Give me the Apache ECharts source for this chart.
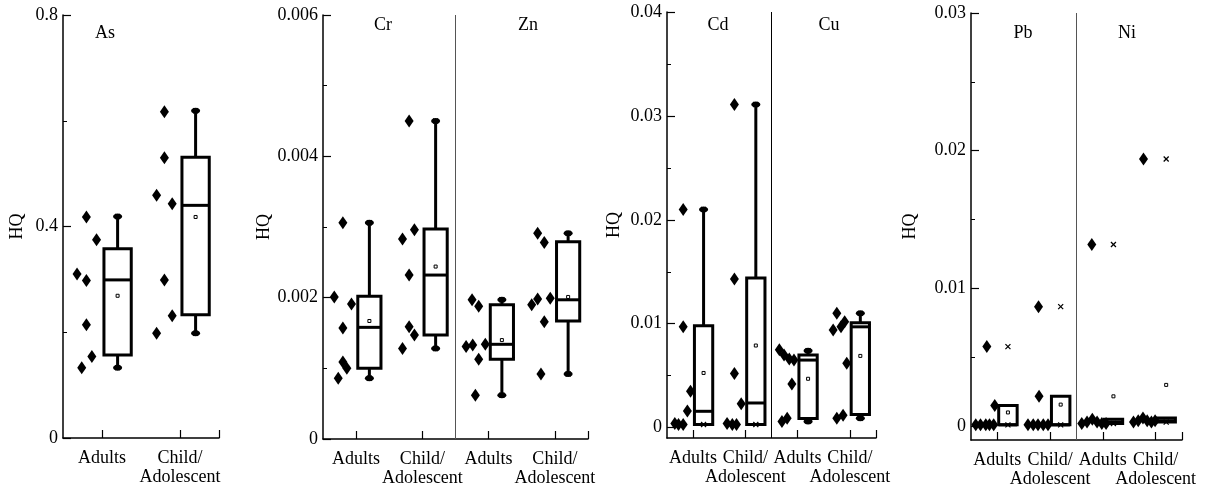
<!DOCTYPE html>
<html>
<head>
<meta charset="utf-8">
<script src="https://cdn.jsdelivr.net/npm/echarts@6/dist/echarts.min.js"></script>
<style>
html,body{margin:0;padding:0;background:#fff;}
#chart{width:1224px;height:489px;}
</style>
</head>
<body>
<div id="chart"></div>
<script>
// ---------------- DATA ----------------
const categories = ['Adults', 'Child/\nAdolescent'];
const yAxisName = 'HQ';
const panelMetals = [['As'], ['Cr', 'Zn'], ['Cd', 'Cu'], ['Pb', 'Ni']];
const yMin = [0, 0, -0.001, -0.001];
const yMax = [0.8, 0.006, 0.04, 0.03];
const yMajorTicks = [[0, 0.4, 0.8], [0, 0.002, 0.004, 0.006], [0, 0.01, 0.02, 0.03, 0.04], [0, 0.01, 0.02, 0.03]];
const yMinorTicks = [[0.2, 0.6], [0.001, 0.003, 0.005], [0.005, 0.015, 0.025, 0.035], [0.005, 0.015, 0.025]];

// points per group: [Adults], [Child/Adolescent]; jitter = horizontal spread of each point (category units)
const asPoints = [[0.418, 0.375, 0.310, 0.298, 0.214, 0.154, 0.133], [0.617, 0.530, 0.459, 0.443, 0.299, 0.231, 0.198]];
const asJitter = [[-0.2, -0.07, -0.32, -0.2, -0.2, -0.13, -0.26], [-0.2, -0.2, -0.3, -0.1, -0.2, -0.1, -0.3]];
// box: [lower whisker, Q1, median, Q3, upper whisker]
const asBox = [[0.133, 0.157, 0.299, 0.358, 0.419], [0.198, 0.233, 0.440, 0.531, 0.619]];
const asMean = [0.269, 0.418];
const asRange = [[0.133, 0.419], [0.198, 0.619]];

const crPoints = [[0.00306, 0.00201, 0.00191, 0.00157, 0.00109, 0.00100, 0.00086], [0.00450, 0.00283, 0.00296, 0.00232, 0.00159, 0.00147, 0.00128]];
const crJitter = [[-0.2, -0.33, -0.07, -0.2, -0.2, -0.14, -0.27], [-0.2, -0.3, -0.12, -0.2, -0.2, -0.12, -0.3]];
const crBox = [[0.00086, 0.00100, 0.00158, 0.00202, 0.00306], [0.00128, 0.00147, 0.00232, 0.00297, 0.00450]];
const crMean = [0.00167, 0.00244];
const crRange = [[0.00086, 0.00306], [0.00128, 0.00450]];

const znPoints = [[0.00197, 0.00188, 0.00131, 0.00133, 0.00134, 0.00113, 0.00062], [0.00291, 0.00278, 0.00190, 0.00198, 0.00199, 0.00166, 0.00092]];
const znJitter = [[-0.25, -0.15, -0.34, -0.24, -0.05, -0.15, -0.2], [-0.26, -0.16, -0.35, -0.26, -0.07, -0.16, -0.21]];
const znBox = [[0.00062, 0.00113, 0.00134, 0.00190, 0.00197], [0.00092, 0.00167, 0.00197, 0.00279, 0.00291]];
const znMean = [0.00140, 0.00201];
const znRange = [[0.00062, 0.00197], [0.00092, 0.00291]];

const cdPoints = [[0.0210, 0.0097, 0.0035, 0.0016, 0.0004, 0.0003, 0.0003], [0.0311, 0.0143, 0.0052, 0.0023, 0.0004, 0.0003, 0.0003]];
const cdJitter = [[-0.19, -0.19, -0.05, -0.11, -0.35, -0.28, -0.19], [-0.21, -0.21, -0.21, -0.08, -0.35, -0.25, -0.17]];
const cdBox = [[0.0003, 0.0003, 0.00157, 0.0098, 0.0210], [0.0003, 0.0003, 0.00237, 0.0144, 0.0311]];
const cdMean = [0.00526, 0.0079];
const cdRange = [[0.0003, 0.0210], [0.0003, 0.0311]];

const cuPoints = [[0.0075, 0.0070, 0.0066, 0.0065, 0.0042, 0.0009, 0.0006], [0.0110, 0.0102, 0.0097, 0.0094, 0.0062, 0.0012, 0.0009]];
const cuJitter = [[-0.35, -0.26, -0.16, -0.07, -0.11, -0.2, -0.3], [-0.25, -0.1, -0.17, -0.32, -0.06, -0.13, -0.25]];
const cuBox = [[0.0006, 0.00088, 0.0065, 0.0070, 0.0074], [0.0009, 0.00125, 0.0097, 0.0101, 0.0110]];
const cuMean = [0.0047, 0.0069];
const cuRange = [[0.0006, 0.0074], [0.0009, 0.0110]];

const pbPoints = [[0.00578, 0.0015, 0.0001, 0.0001, 0.0001, 0.0001, 0.0001], [0.00868, 0.00217, 0.0001, 0.0001, 0.0001, 0.0001, 0.0001]];
const pbJitter = [[-0.2, -0.05, -0.41, -0.32, -0.22, -0.15, -0.07], [-0.22, -0.21, -0.42, -0.32, -0.23, -0.13, -0.04]];
const pbBox = [[0.0001, 0.0001, 0.0001, 0.0015, 0.0015], [0.0001, 0.0001, 0.0001, 0.00217, 0.00217]];
const pbMean = [0.0010, 0.00157];
const pbRange = [[0.0001, 0.00578], [0.0001, 0.00868]];

const niPoints = [[0.01319, 0.0002, 0.0003, 0.0005, 0.0003, 0.0002, 0.0002], [0.0194, 0.0003, 0.0004, 0.0006, 0.0004, 0.0003, 0.0004]];
const niJitter = [[-0.21, -0.4, -0.3, -0.2, -0.11, -0.02, 0.06], [-0.23, -0.42, -0.33, -0.24, -0.16, -0.08, -0.01]];
const niBox = [[0.0002, 0.0002, 0.0003, 0.0005, 0.0005], [0.0003, 0.0003, 0.0004, 0.0006, 0.0006]];
const niMean = [0.00217, 0.0030];
const niRange = [[0.0002, 0.01319], [0.0003, 0.0194]];

const metalData = {
  As: {points: asPoints, jitter: asJitter, box: asBox, mean: asMean, range: asRange},
  Cr: {points: crPoints, jitter: crJitter, box: crBox, mean: crMean, range: crRange},
  Zn: {points: znPoints, jitter: znJitter, box: znBox, mean: znMean, range: znRange},
  Cd: {points: cdPoints, jitter: cdJitter, box: cdBox, mean: cdMean, range: cdRange},
  Cu: {points: cuPoints, jitter: cuJitter, box: cuBox, mean: cuMean, range: cuRange},
  Pb: {points: pbPoints, jitter: pbJitter, box: pbBox, mean: pbMean, range: pbRange},
  Ni: {points: niPoints, jitter: niJitter, box: niBox, mean: niMean, range: niRange}
};

// ---------------- LAYOUT / STYLE ----------------
const FONT = "'Liberation Serif', 'Times New Roman', serif";
const BOX_OFFSET = 0.2;
const BOX_WIDTH = 0.35;
const LINE_H = 19;
const layout = [
  {left: 63, top: 15, width: 156, height: 423, nameGap: 37, titles: [[105, 33]], divider: null},
  {left: 323, top: 15, width: 265, height: 424, nameGap: 49, titles: [[383, 25], [528, 25]], divider: '#555'},
  {left: 667, top: 12, width: 209, height: 426, nameGap: 44, titles: [[718, 25], [829, 25]], divider: '#000'},
  {left: 971, top: 13, width: 211, height: 427, nameGap: 52, titles: [[1023, 33], [1127, 33]], divider: '#555'}
];
const catLine = (v, line) => (categories[Math.round(v) % categories.length].split('\n')[line] || '');

function renderBox(params, api) {
  const x = api.value(0);
  const c = i => api.coord([x, api.value(i)]);
  const cx = c(1)[0];
  const halfW = api.size([BOX_WIDTH, 0])[0] / 2;
  const yLow = c(1)[1], yQ1 = c(2)[1], yMed = c(3)[1], yQ3 = c(4)[1], yHigh = c(5)[1];
  const yMean = c(6)[1], yMinV = c(7)[1], yMaxV = c(8)[1];
  const k = '#000';
  const thick = {stroke: k, lineWidth: 3};
  const ch = [];
  if (yHigh < yQ3 - 0.5) {
    ch.push({type: 'line', shape: {x1: cx, y1: yQ3, x2: cx, y2: yHigh}, style: thick});
  }
  if (yLow > yQ1 + 0.5) {
    ch.push({type: 'line', shape: {x1: cx, y1: yQ1, x2: cx, y2: yLow}, style: thick});
  }
  ch.push({type: 'rect', shape: {x: cx - halfW, y: yQ3, width: 2 * halfW, height: yQ1 - yQ3},
           style: {fill: '#fff', stroke: k, lineWidth: 3}});
  ch.push({type: 'line', shape: {x1: cx - halfW, y1: yMed, x2: cx + halfW, y2: yMed}, style: thick});
  if (yHigh < yQ3 - 0.5) ch.push({type: 'ellipse', shape: {cx: cx, cy: yHigh, rx: 4.5, ry: 3}, style: {fill: k}});
  if (yLow > yQ1 + 0.5) ch.push({type: 'ellipse', shape: {cx: cx, cy: yLow, rx: 4.5, ry: 3}, style: {fill: k}});
  ch.push({type: 'rect', shape: {x: cx - 1.5, y: yMean - 1.5, width: 3, height: 3}, style: {fill: 'none', stroke: k, lineWidth: 1}});
  [yMinV, yMaxV].forEach(yy => {
    ch.push({type: 'line', shape: {x1: cx - 2.5, y1: yy - 2.5, x2: cx + 2.5, y2: yy + 2.5}, style: {stroke: k, lineWidth: 1.2}});
    ch.push({type: 'line', shape: {x1: cx - 2.5, y1: yy + 2.5, x2: cx + 2.5, y2: yy - 2.5}, style: {stroke: k, lineWidth: 1.2}});
  });
  return {type: 'group', children: ch};
}

const grids = [], xAxes = [], yAxes = [], series = [], graphics = [];
panelMetals.forEach((metals, p) => {
  const L = layout[p];
  const nCat = metals.length * categories.length;
  grids.push({left: L.left, top: L.top, width: L.width, height: L.height, containLabel: false});
  const xTicks = [];
  const xSecondLine = [];
  for (let i = 0; i < nCat; i++) {
    xTicks.push(i);
    if (catLine(i, 1)) xSecondLine.push(i);
  }
  // main x axis: first line of category label
  xAxes.push({
    type: 'value', gridIndex: p, min: -0.5, max: nCat - 0.5, position: 'bottom',
    axisLine: {show: true, onZero: false, lineStyle: {color: '#000', width: 1.5}},
    axisTick: {show: true, inside: true, length: 8, customValues: xTicks.concat([nCat - 0.5]), lineStyle: {color: '#000', width: 1.2}},
    axisLabel: {show: true, customValues: xTicks, margin: 11, color: '#000', fontFamily: FONT, fontSize: 18, lineHeight: LINE_H,
                hideOverlap: false, formatter: v => catLine(v, 0)},
    splitLine: {show: false}
  });
  // second line of category label
  xAxes.push({
    type: 'value', gridIndex: p, min: -0.5, max: nCat - 0.5, position: 'bottom', offset: LINE_H,
    axisLine: {show: false, onZero: false},
    axisTick: {show: false},
    axisLabel: {show: true, customValues: xSecondLine, margin: 11, color: '#000', fontFamily: FONT, fontSize: 18, lineHeight: LINE_H,
                hideOverlap: false, formatter: v => catLine(v, 1)},
    splitLine: {show: false}
  });
  yAxes.push({
    type: 'value', gridIndex: p, min: yMin[p], max: yMax[p], position: 'left',
    name: yAxisName, nameLocation: 'middle', nameGap: L.nameGap, nameRotate: 90,
    nameTextStyle: {color: '#000', fontFamily: FONT, fontSize: 18},
    axisLine: {show: true, onZero: false, lineStyle: {color: '#000', width: 1.5}},
    axisTick: {show: true, inside: true, length: 8, customValues: yMajorTicks[p], lineStyle: {color: '#000', width: 1.2}},
    axisLabel: {show: true, customValues: yMajorTicks[p], margin: 5, color: '#000', fontFamily: FONT, fontSize: 18},
    splitLine: {show: false}
  });
  yAxes.push({
    type: 'value', gridIndex: p, min: yMin[p], max: yMax[p], position: 'left', offset: 0,
    axisLine: {show: false, onZero: false},
    axisTick: {show: true, inside: true, length: 4, customValues: yMinorTicks[p], lineStyle: {color: '#000', width: 1}},
    axisLabel: {show: false},
    splitLine: {show: false}
  });
  metals.forEach((m, j) => {
    const d = metalData[m];
    const scatterData = [];
    const boxData = [];
    categories.forEach((cat, k) => {
      const pos = j * categories.length + k;
      d.points[k].forEach((v, i) => scatterData.push([pos + d.jitter[k][i], v]));
      boxData.push([pos + BOX_OFFSET].concat(d.box[k], [d.mean[k]], d.range[k]));
    });
    series.push({
      type: 'custom', name: m + ' box', xAxisIndex: 2 * p, yAxisIndex: 2 * p,
      renderItem: renderBox, data: boxData,
      encode: {x: 0, y: [1, 2, 3, 4, 5, 6, 7, 8]}, silent: true
    });
    const sc = {
      type: 'scatter', name: m, xAxisIndex: 2 * p, yAxisIndex: 2 * p,
      symbol: 'diamond', symbolSize: [9, 13], itemStyle: {color: '#000', opacity: 1},
      data: scatterData, silent: true
    };
    if (j === 1 && L.divider) {
      sc.markLine = {silent: true, symbol: 'none', label: {show: false},
        lineStyle: {color: L.divider, width: 1, type: 'solid'},
        data: [{xAxis: categories.length - 0.5}]};
    }
    series.push(sc);
    graphics.push({type: 'text', x: L.titles[j][0], y: L.titles[j][1],
      style: {text: m, fill: '#000', font: '18px ' + FONT, textAlign: 'center', textVerticalAlign: 'middle'}});
  });
});

const chart = echarts.init(document.getElementById('chart'), null, {renderer: 'canvas'});
chart.setOption({
  animation: false,
  backgroundColor: '#fff',
  grid: grids, xAxis: xAxes, yAxis: yAxes, series: series, graphic: graphics
});
</script>
</body>
</html>
